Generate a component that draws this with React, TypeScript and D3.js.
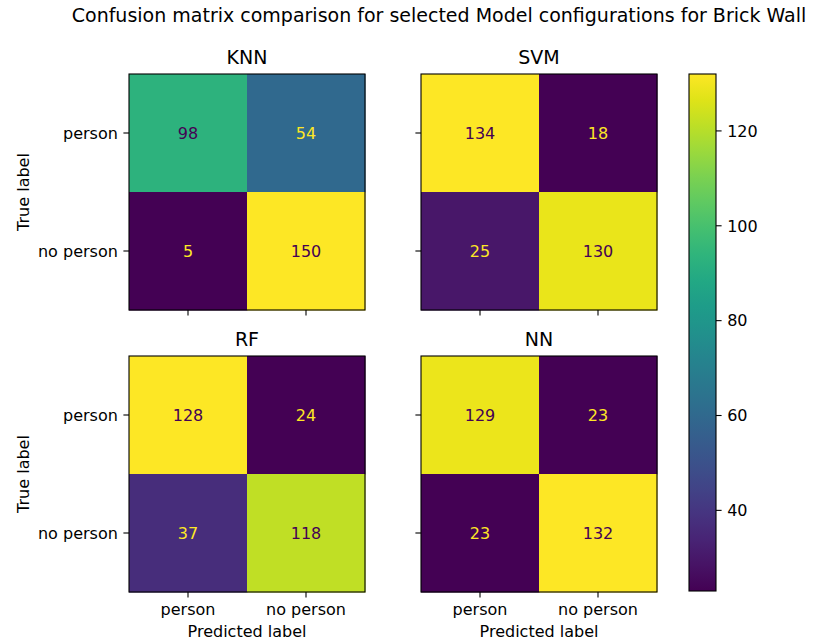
import React from "react";
import * as d3 from "d3";

const classLabels = ["person", "no person"];
const modelNames = ["KNN", "SVM", "RF", "NN"];
// rows: true label, columns: predicted label
const knnMatrix = [[98, 54], [5, 150]];
const svmMatrix = [[134, 18], [25, 130]];
const rfMatrix = [[128, 24], [37, 118]];
const nnMatrix = [[129, 23], [23, 132]];
const colorbarTicks = [40, 60, 80, 100, 120];

const matrices = [knnMatrix, svmMatrix, rfMatrix, nnMatrix];

const W = 820;
const H = 643;
const FONT = "DejaVu Sans, sans-serif";
const TITLE_SIZE = 19;
const LABEL_SIZE = 16;
const TICK_LEN = 5.6;
const TICK_PAD = 5.6;
const size = 236;
const colX = [129, 421];
const rowY = [74, 356];

const cmapLow = d3.interpolateViridis(0);
const cmapHigh = d3.interpolateViridis(1);

function Panel({ mat, name, x0, y0, showXLabels, showYLabels }) {
  const flat = mat.flat();
  const vmin = d3.min(flat);
  const vmax = d3.max(flat);
  const color = d3.scaleSequential(d3.interpolateViridis).domain([vmin, vmax]);
  const thresh = (vmin + vmax) / 2;
  const band = d3.scaleBand().domain(classLabels).range([0, size]);
  const bw = band.bandwidth();
  return (
    <g transform={`translate(${x0},${y0})`}>
      <text x={size / 2} y={-10} textAnchor="middle" fontSize={TITLE_SIZE} fontFamily={FONT} fill="#000">{name}</text>
      {mat.map((row, i) =>
        row.map((v, j) => (
          <g key={`${i}-${j}`}>
            <rect x={band(classLabels[j])} y={band(classLabels[i])} width={bw + 0.5} height={bw + 0.5} fill={color(v)} />
            <text x={band(classLabels[j]) + bw / 2} y={band(classLabels[i]) + bw / 2} dy="0.36em" textAnchor="middle" fontSize={LABEL_SIZE} fontFamily={FONT} fill={v < thresh ? cmapHigh : cmapLow}>{v}</text>
          </g>
        ))
      )}
      <rect x={0} y={0} width={size} height={size} fill="none" stroke="#000" strokeWidth={1.1} />
      {classLabels.map((c) => (
        <g key={"x" + c}>
          <line x1={band(c) + bw / 2} x2={band(c) + bw / 2} y1={size} y2={size + TICK_LEN} stroke="#000" strokeWidth={1.1} />
          {showXLabels && (
            <text x={band(c) + bw / 2} y={size + TICK_LEN + TICK_PAD + 12} textAnchor="middle" fontSize={LABEL_SIZE} fontFamily={FONT} fill="#000">{c}</text>
          )}
        </g>
      ))}
      {classLabels.map((c) => (
        <g key={"y" + c}>
          <line x1={-TICK_LEN} x2={0} y1={band(c) + bw / 2} y2={band(c) + bw / 2} stroke="#000" strokeWidth={1.1} />
          {showYLabels && (
            <text x={-TICK_LEN - TICK_PAD} y={band(c) + bw / 2} dy="0.36em" textAnchor="end" fontSize={LABEL_SIZE} fontFamily={FONT} fill="#000">{c}</text>
          )}
        </g>
      ))}
      {showXLabels && (
        <text x={size / 2} y={size + 45} textAnchor="middle" fontSize={LABEL_SIZE} fontFamily={FONT} fill="#000">Predicted label</text>
      )}
      {showYLabels && (
        <text transform={`translate(${-106},${size / 2}) rotate(-90)`} dy="0.36em" textAnchor="middle" fontSize={LABEL_SIZE} fontFamily={FONT} fill="#000">True label</text>
      )}
    </g>
  );
}

export default function App() {
  // colorbar follows the last drawn matrix
  const last = matrices[matrices.length - 1].flat();
  const cbMin = d3.min(last);
  const cbMax = d3.max(last);
  const cbX = 689;
  const cbW = 27;
  const cbTop = 74;
  const cbBottom = 591;
  const cbScale = d3.scaleLinear().domain([cbMin, cbMax]).range([cbBottom, cbTop]);
  const stops = d3.range(0, 1.0001, 0.05);
  return (
    <svg width={W} height={H} style={{ position: "absolute", left: 0, top: 0, background: "#fff" }}>
      <defs>
        <linearGradient id="cbgrad" x1="0" y1="1" x2="0" y2="0">
          {stops.map((t) => (
            <stop key={t} offset={t} stopColor={d3.interpolateViridis(t)} />
          ))}
        </linearGradient>
      </defs>
      <text x={439} y={22} textAnchor="middle" fontSize={TITLE_SIZE} fontFamily={FONT} fill="#000">
        Confusion matrix comparison for selected Model configurations for Brick Wall
      </text>
      {matrices.map((m, k) => (
        <Panel
          key={modelNames[k]}
          mat={m}
          name={modelNames[k]}
          x0={colX[k % 2]}
          y0={rowY[Math.floor(k / 2)]}
          showXLabels={k >= 2}
          showYLabels={k % 2 === 0}
        />
      ))}
      <rect x={cbX} y={cbTop} width={cbW} height={cbBottom - cbTop} fill="url(#cbgrad)" stroke="#000" strokeWidth={1.1} />
      {colorbarTicks.map((t) => (
        <g key={t}>
          <line x1={cbX + cbW} x2={cbX + cbW + TICK_LEN} y1={cbScale(t)} y2={cbScale(t)} stroke="#000" strokeWidth={1.1} />
          <text x={cbX + cbW + TICK_LEN + TICK_PAD} y={cbScale(t)} dy="0.36em" fontSize={LABEL_SIZE} fontFamily={FONT} fill="#000">{t}</text>
        </g>
      ))}
    </svg>
  );
}
